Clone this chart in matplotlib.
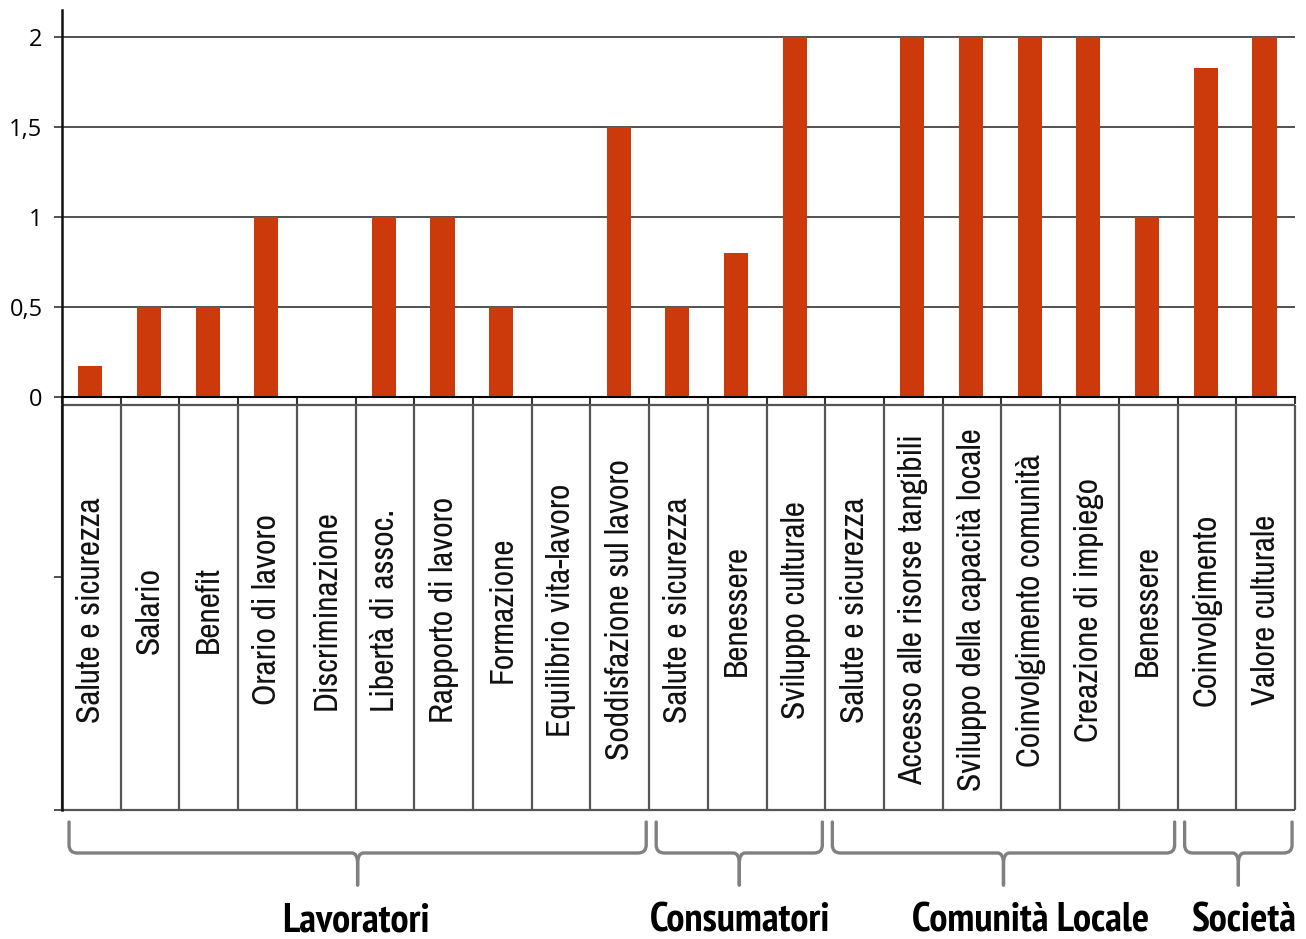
import matplotlib
matplotlib.use('Agg')
import matplotlib.pyplot as plt
from matplotlib import font_manager
from matplotlib.font_manager import FontProperties
from matplotlib.path import Path
from matplotlib.patches import PathPatch

# Categories and values
labels = ['Salute e sicurezza', 'Salario', 'Benefit', 'Orario di lavoro', 'Discriminazione',
          'Libertà di assoc.', 'Rapporto di lavoro', 'Formazione', 'Equilibrio vita-lavoro',
          'Soddisfazione sul lavoro',
          'Salute e sicurezza', 'Benessere', 'Sviluppo culturale',
          'Salute e sicurezza', 'Accesso alle risorse tangibili', 'Sviluppo della capacità locale',
          'Coinvolgimento comunità', 'Creazione di impiego', 'Benessere',
          'Coinvolgimento', 'Valore culturale']
values = [0.17, 0.5, 0.5, 1, 0, 1, 1, 0.5, 0, 1.5,
          0.5, 0.8, 2,
          0, 2, 2, 2, 2, 1,
          1.83, 2]
groups = ['Lavoratori', 'Consumatori', 'Comunità Locale', 'Società']
group_sizes = [10, 3, 6, 2]
yticks = [0, 0.5, 1, 1.5, 2]
ytick_labels = ['0', '0,5', '1', '1,5', '2']

BAR_COLOR = '#cc3a0c'
PX = 180.0  # pixels per y unit


def y_of(px):
	# convert a pixel row of the original to a data y value
	return (397 - px) / PX


def find_narrow(bold):
	"""Look for an installed condensed sans face; fall back to DejaVu Sans."""
	best = None
	for f in font_manager.fontManager.ttflist:
		narrow = ('Narrow' in f.name or 'Condensed' in f.name or
				  str(f.stretch) in ('condensed', 'semi-condensed', 'extra-condensed') or
				  'Condensed' in f.fname or 'Narrow' in f.fname)
		if not narrow or f.style != 'normal':
			continue
		w = f.weight if isinstance(f.weight, int) else (700 if 'bold' in str(f.weight) else 400)
		if bold != (w >= 600):
			continue
		if 'Mono' in f.name or 'Serif' in f.name:
			continue
		score = 0 if ('Liberation' in f.name or 'Narrow' in f.name) else 1
		if best is None or score < best[0]:
			best = (score, f.fname)
	if best:
		return FontProperties(fname=best[1])
	return FontProperties(family='DejaVu Sans', weight='bold' if bold else 'normal')


def fit_text(t, renderer, target, axis):
	# shrink/grow the font so the text spans target pixels
	bb = t.get_window_extent(renderer)
	cur = bb.height if axis == 'h' else bb.width
	t.set_fontsize(t.get_fontsize() * target / cur)


def draw_brace(ax, x0, x1, y_top, y_mid, y_tip):
	xc = (x0 + x1) / 2
	rx, ry = 0.14, 0.045
	tx, ty = 0.1, 0.06
	for xs, sgn in ((x0, 1), (x1, -1)):
		verts = [(xs, y_top), (xs, y_mid + ry), (xs, y_mid), (xs + sgn * rx, y_mid),
				 (xc - sgn * tx, y_mid), (xc, y_mid), (xc, y_mid - ty), (xc, y_tip)]
		codes = [Path.MOVETO, Path.LINETO, Path.CURVE3, Path.CURVE3,
				 Path.LINETO, Path.CURVE3, Path.CURVE3, Path.LINETO]
		ax.add_patch(PathPatch(Path(verts, codes), fill=False, edgecolor='#808080',
							   linewidth=2.4, capstyle='round', joinstyle='round', clip_on=False))


def main():
	fig = plt.figure(figsize=(13.06, 9.39), dpi=100)
	ax = fig.add_axes([62 / 1306, (939 - 810) / 939, (1295 - 62) / 1306, 800 / 939])
	renderer = fig.canvas.get_renderer()
	n = len(values)
	ax.set_xlim(0, n)
	y_bottom = y_of(810)
	ax.set_ylim(y_bottom, y_of(10))

	# gridlines
	for t in yticks[1:]:
		ax.axhline(t, color='#333333', linewidth=1.2, zorder=1)

	xs = [i + 0.48 for i in range(n)]
	ax.bar(xs, values, width=0.41, color=BAR_COLOR, zorder=2)

	# spines
	for s in ('top', 'right'):
		ax.spines[s].set_visible(False)
	ax.spines['bottom'].set_position(('data', 0))
	ax.spines['bottom'].set_linewidth(1.5)
	ax.spines['left'].set_linewidth(1.8)
	ax.spines['left'].set_color('#111111')

	ax.set_xticks(range(n + 1))
	ax.set_xticklabels([])
	ax.tick_params(axis='x', direction='out', length=5, width=1.5, color='#333333')
	ax.set_yticks(yticks + [-1.0, y_bottom])
	ax.set_yticklabels(ytick_labels + ['', ''], family='Open Sans', fontsize=17)
	ax.tick_params(axis='y', direction='out', length=6, width=1.2, pad=8, color='#333333')

	# table with the category names
	t_top = y_of(405)
	ax.hlines([t_top, y_bottom], 0, n, color='#555555', linewidth=1.6, clip_on=False)
	ax.vlines(range(n + 1), y_bottom, t_top, color='#555555', linewidth=1.6, clip_on=False)
	fp = find_narrow(False)
	texts = []
	for i, lab in enumerate(labels):
		texts.append(ax.text(i + 0.5, y_of(610), lab, rotation=90, ha='center', va='center',
							 fontproperties=fp, fontsize=22, color='#111111'))
	# size taken from the first label, which spans ~226 px in the reference
	fit_text(texts[0], renderer, 226, 'h')
	for t in texts[1:]:
		t.set_fontsize(texts[0].get_fontsize())

	# group braces and names
	fpb = find_narrow(True)
	label_shift = [0, 0.05, 0.5, 0.12]
	start = 0
	gtexts = []
	for g, size, sh in zip(groups, group_sizes, label_shift):
		end = start + size
		draw_brace(ax, start + 0.12, end - 0.05, y_of(822), y_of(853), y_of(885))
		gtexts.append(ax.text((start + end) / 2 + sh, y_of(921), g, ha='center', va='center',
							  fontproperties=fpb, fontsize=22, clip_on=False))
		start = end
	fit_text(gtexts[0], renderer, 147, 'w')
	for t in gtexts[1:]:
		t.set_fontsize(gtexts[0].get_fontsize())

	fig.savefig('out.png', dpi=100)


if __name__ == '__main__':
	main()
